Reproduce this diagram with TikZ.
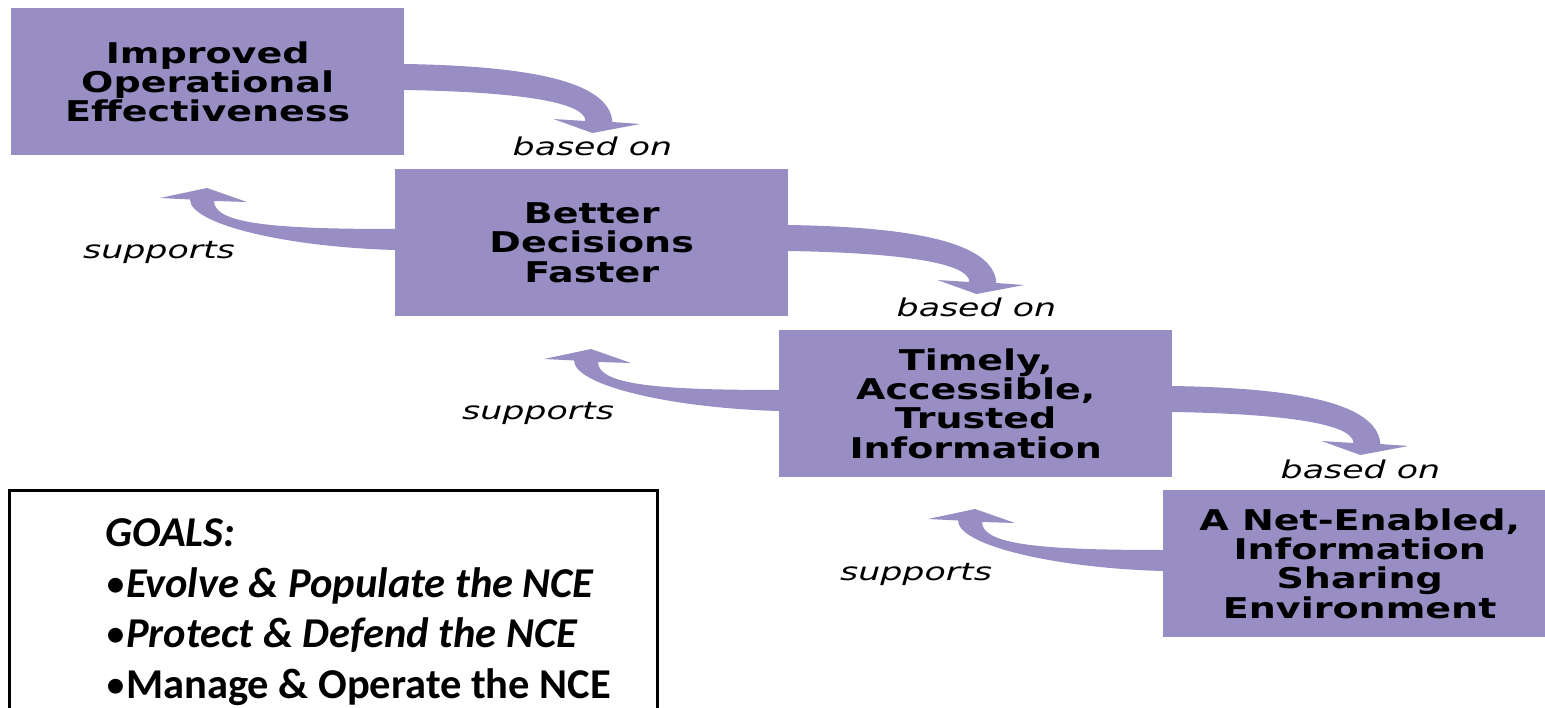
\documentclass[tikz,border=0pt]{standalone}
\usepackage{fontspec}
\usetikzlibrary{calc}
\newfontfamily\boxfont{DejaVu Sans}[FakeStretch=1.33]
\newfontfamily\labfont{DejaVu Sans}[FakeStretch=1.42]
\newfontfamily\goalfont{Carlito}
\definecolor{boxc}{RGB}{152,142,196}
\pgfdeclarelayer{bg}
\pgfsetlayers{bg,main}
\begin{document}
\begin{tikzpicture}[x=1pt,y=-1pt,
  box/.style={rectangle, fill=boxc, minimum width=393pt, minimum height=147pt,
    inner sep=0pt, align=center, anchor=north west, text=black,
    font={\boxfont\bfseries\fontsize{28.6}{29.2}\selectfont}},
  lab/.style={font={\labfont\itshape\fontsize{24.5}{26}\selectfont}, anchor=base, inner sep=0pt},
  goal/.style={font={\goalfont\bfseries\fontsize{42.5}{46}\selectfont}, anchor=base west, inner sep=0pt},
  arr/.style={fill=boxc}]
\useasboundingbox (0,0) rectangle (1545,708);
\clip (0,0) rectangle (1545,708);

% boxes
\node[box] (b1) at (11,8) {Improved\\Operational\\Effectiveness};
\node[box] (b2) at (395,169) {Better\\Decisions\\Faster};
\node[box] (b3) at (779,330) {Timely,\\Accessible,\\Trusted\\Information};
\node[box] (b4) at (1163,490) {A Net-Enabled,\\Information\\Sharing\\Environment};

% arrows
\begin{pgfonlayer}{bg}
\foreach \b in {b1,b2,b3}{
  \begin{scope}[shift={(\b.north east)}]
    \fill[arr] (-10,56) -- (0,56) .. controls (120,58) and (205,72) .. (208,114)
      -- (236,116) -- (188,125) -- (149,111) -- (181,113)
      .. controls (181,95) and (120,84) .. (0,82) -- (-10,82) -- cycle;
  \end{scope}
}
\foreach \b in {b2,b3,b4}{
  \begin{scope}[shift={(\b.north west)}]
    \fill[arr] (10,60) -- (0,60) .. controls (-120,60) and (-181,55) .. (-181,32)
      -- (-148,33) -- (-188,19) -- (-235,29) -- (-205,30.5)
      .. controls (-205,55) and (-110,78) .. (0,81) -- (10,81) -- cycle;
  \end{scope}
}
\end{pgfonlayer}

% labels
\node[lab] (l1) at ($(b1.north east)+(188,148)$) {based on};
\node[lab] (l2) at ($(b2.north east)+(188,148)$) {based on};
\node[lab] (l3) at ($(b3.north east)+(188,148)$) {based on};
\node[lab] (s1) at ($(b2.north west)+(-236,90)$) {supports};
\node[lab] (s2) at ($(b3.north west)+(-241,90)$) {supports};
\node[lab] (s3) at ($(b4.north west)+(-247,90)$) {supports};

% goals box
\node[draw=black, line width=2.5pt, anchor=north west, minimum width=648pt,
  minimum height=260pt, inner sep=0pt] (goals) at (8,489) {};
\newcommand\gbul{{\fontsize{42}{42}\selectfont\mdseries\upshape •}}
\node[goal] (g0) at (105,546) {\itshape GOALS:};
\node[goal] (g1) at (105,597) {\gbul\textit{Evolve \& Populate the NCE}};
\node[goal] (g2) at (105,647) {\gbul\textit{Protect \& Defend the NCE}};
\node[goal] (g3) at (105,698) {\gbul Manage \& Operate the NCE};
\end{tikzpicture}
\end{document}
